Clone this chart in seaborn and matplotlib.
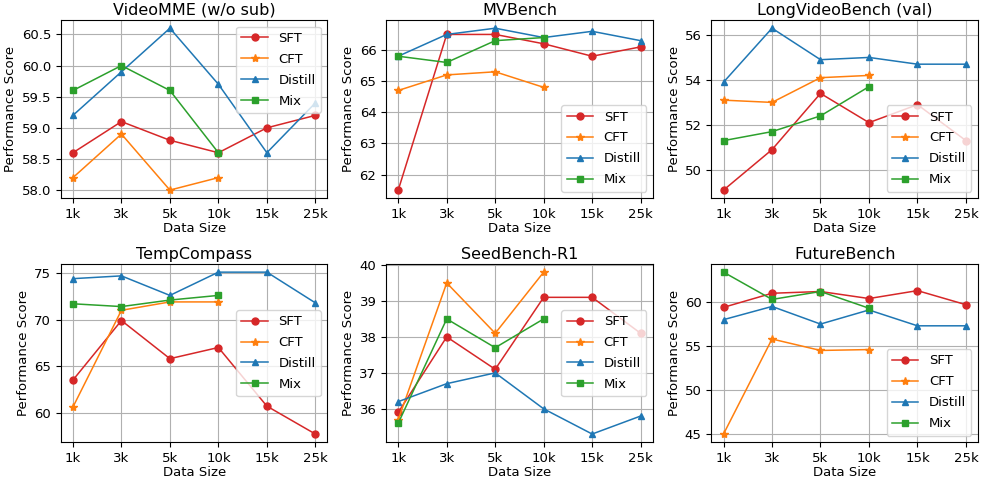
import matplotlib
matplotlib.use("Agg")
import matplotlib.pyplot as plt
from matplotlib.ticker import MultipleLocator
import seaborn as sns
import pandas as pd

sizes = ["1k", "3k", "5k", "10k", "15k", "25k"]
methods = ["SFT", "CFT", "Distill", "Mix"]
colors = ["#d62728", "#ff7f0e", "#1f77b4", "#2ca02c"]
markers = ["o", "*", "^", "s"]

titles = ["VideoMME (w/o sub)", "MVBench", "LongVideoBench (val)",
          "TempCompass", "SeedBench-R1", "FutureBench"]

videomme = {
    "SFT": [58.6, 59.1, 58.8, 58.6, 59.0, 59.2],
    "CFT": [58.2, 58.9, 58.0, 58.2],
    "Distill": [59.2, 59.9, 60.6, 59.7, 58.6, 59.4],
    "Mix": [59.6, 60.0, 59.6, 58.6],
}
mvbench = {
    "SFT": [61.5, 66.5, 66.5, 66.2, 65.8, 66.1],
    "CFT": [64.7, 65.2, 65.3, 64.8],
    "Distill": [65.8, 66.5, 66.7, 66.4, 66.6, 66.3],
    "Mix": [65.8, 65.6, 66.3, 66.4],
}
longvideo = {
    "SFT": [49.1, 50.9, 53.4, 52.1, 52.9, 51.3],
    "CFT": [53.1, 53.0, 54.1, 54.2],
    "Distill": [53.9, 56.3, 54.9, 55.0, 54.7, 54.7],
    "Mix": [51.3, 51.7, 52.4, 53.7],
}
tempcompass = {
    "SFT": [63.5, 69.9, 65.8, 67.0, 60.7, 57.7],
    "CFT": [60.6, 71.0, 71.9, 71.9],
    "Distill": [74.4, 74.7, 72.6, 75.1, 75.1, 71.8],
    "Mix": [71.7, 71.4, 72.1, 72.6],
}
seedbench = {
    "SFT": [35.9, 38.0, 37.1, 39.1, 39.1, 38.1],
    "CFT": [35.7, 39.5, 38.1, 39.8],
    "Distill": [36.2, 36.7, 37.0, 36.0, 35.3, 35.8],
    "Mix": [35.6, 38.5, 37.7, 38.5],
}
futurebench = {
    "SFT": [59.4, 61.0, 61.2, 60.4, 61.3, 59.7],
    "CFT": [45.0, 55.8, 54.5, 54.6],
    "Distill": [58.0, 59.5, 57.5, 59.1, 57.3, 57.3],
    "Mix": [63.4, 60.3, 61.2, 59.3],
}

panels = [videomme, mvbench, longvideo, tempcompass, seedbench, futurebench]
legend_locs = ["upper right", "lower right", "lower right",
               "center right", "center right", "lower right"]
ytick_steps = [0.5, 1, 2, 5, 1, 5]

plt.rcParams["font.family"] = ["DejaVu Sans"]
fig, axes = plt.subplots(2, 3, figsize=(9.81, 4.79), dpi=100)

for ax, title, data, loc, step in zip(axes.flat, titles, panels, legend_locs, ytick_steps):
    for m, c, mk in zip(methods, colors, markers):
        vals = data[m]
        df = pd.DataFrame({"x": range(len(vals)), "y": vals})
        ms = 6 if mk == "*" else 5
        sns.lineplot(data=df, x="x", y="y", ax=ax, color=c, marker=mk,
                     markersize=ms, markeredgecolor=c, markeredgewidth=1,
                     linewidth=1.1, label=m)
    ax.set_xticks(range(len(sizes)))
    ax.set_xticklabels(sizes)
    ax.yaxis.set_major_locator(MultipleLocator(step))
    ax.set_title(title, fontsize=11.5, pad=4)
    ax.set_xlabel("Data Size", fontsize=9.5, labelpad=1)
    ax.set_ylabel("Performance Score", fontsize=9.5, labelpad=3)
    ax.tick_params(labelsize=9.5)
    ax.grid(True, color="#b0b0b0", linewidth=0.8)
    ax.legend(loc=loc, fontsize=9.5, labelspacing=0.6)

plt.subplots_adjust(left=0.062, right=0.997, top=0.958, bottom=0.077,
                    wspace=0.22, hspace=0.37)
plt.savefig("out.png")
